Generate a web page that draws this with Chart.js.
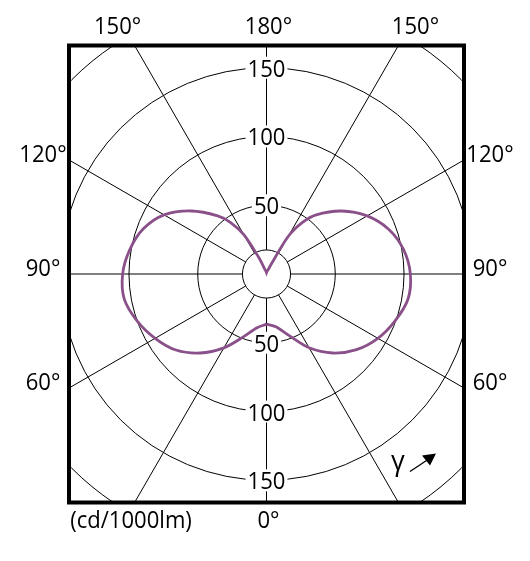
<!DOCTYPE html>
<html><head><meta charset="utf-8">
<style>html,body{margin:0;padding:0;background:#fff;}canvas{display:block;}</style>
<script src="https://cdn.jsdelivr.net/npm/chart.js@4/dist/chart.umd.min.js"></script>
</head><body>
<canvas id="c" width="530" height="561"></canvas>
<script>
// gamma angles (deg, 0 = nadir) and luminous intensity (cd/1000lm)
const angles = [0,10,20,30,40,50,60,70,80,90,100,110,120,130,140,145,150,155,160,170,180];
const leftIntensity  = [36.5,39.7,48.5,62,75,86,93.5,100,105,104.6,101,95.5,86,71.3,55.2,45.9,33,13,4,2,1];
const rightIntensity = [36.5,39,47.5,62,75,85.5,93.5,99.5,104.5,104.6,101.3,94.7,84.5,71.3,56.2,46,31.5,7,3,2,1];
const ringValues = [50,100,150,200];
const ringLabels = [50,100,150];
const hubValue = 17.5;
const spokeAngles = [0,30,60,90,120,150,180,210,240,270,300,330];
const topLabels = ['150°','180°','150°'];
const sideLabels = ['120°','90°','60°'];
const sideAngles = [120,90,60];
const unitLabel = '(cd/1000lm)';
const bottomLabel = '0°';
const gammaLabel = 'γ';

const FONT = '24px "Open Sans", "Noto Sans", sans-serif';
const SX = 0.92;
const rad = d => d*Math.PI/180;

function txt(ctx, t, x, y){
  ctx.save(); ctx.translate(x, y); ctx.scale(SX, 1); ctx.fillText(t, 0, 0); ctx.restore();
}

const pts = [];
angles.forEach((a,i)=>{ const v=leftIntensity[i]; pts.push({x:-v*Math.sin(rad(a)), y:-v*Math.cos(rad(a))}); });
for (let i=angles.length-1;i>=0;i--){ const a=angles[i], v=rightIntensity[i]; pts.push({x:v*Math.sin(rad(a)), y:-v*Math.cos(rad(a))}); }

const polarGrid = {
  id:'polarGrid',
  beforeDatasetsDraw(chart){
    const {ctx, chartArea:ca, scales:{x,y}} = chart;
    const cx=x.getPixelForValue(0), cy=y.getPixelForValue(0), k=x.getPixelForValue(1)-cx;
    ctx.save();
    ctx.beginPath(); ctx.rect(ca.left,ca.top,ca.right-ca.left,ca.bottom-ca.top); ctx.clip();
    ctx.strokeStyle='#000'; ctx.lineWidth=1;
    [hubValue,...ringValues].forEach(v=>{ ctx.beginPath(); ctx.arc(cx,cy,v*k,0,Math.PI*2); ctx.stroke(); });
    spokeAngles.forEach(a=>{
      const s=Math.sin(rad(a)), c=Math.cos(rad(a));
      ctx.beginPath(); ctx.moveTo(cx+hubValue*k*s, cy+hubValue*k*c); ctx.lineTo(cx+400*k*s, cy+400*k*c); ctx.stroke();
    });
    ctx.font=FONT; ctx.textAlign='center'; ctx.textBaseline='alphabetic';
    ringLabels.forEach(v=>{
      [-1,1].forEach(sg=>{
        const yy=cy+sg*v*k, t=String(v), w=ctx.measureText(t).width*SX;
        ctx.fillStyle='#fff'; ctx.fillRect(cx-w/2-2, yy-11, w+4, 22);
        ctx.fillStyle='#000'; txt(ctx, t, cx, yy+9);
      });
    });
    ctx.restore();
  },
  afterDraw(chart){
    const {ctx, chartArea:ca, scales:{x,y}} = chart;
    const cx=x.getPixelForValue(0), cy=y.getPixelForValue(0);
    ctx.save();
    ctx.strokeStyle='#000'; ctx.lineWidth=4;
    ctx.strokeRect(ca.left, ca.top, ca.right-ca.left, ca.bottom-ca.top);
    ctx.fillStyle='#000'; ctx.font=FONT; ctx.textAlign='center'; ctx.textBaseline='alphabetic';
    const off=(cy-ca.top)*Math.tan(rad(30));
    txt(ctx, topLabels[0], cx-off-17, ca.top-12);
    txt(ctx, topLabels[1], cx+2, ca.top-12);
    txt(ctx, topLabels[2], cx+off+17, ca.top-12);
    sideLabels.forEach((t,i)=>{
      const a=sideAngles[i];
      const yy=cy+(cx-ca.left)*Math.cos(rad(a))/Math.sin(rad(a));
      txt(ctx, t, ca.left-26, yy+2);
      txt(ctx, t, ca.right+26, yy+2);
    });
    txt(ctx, unitLabel, ca.left+62, ca.bottom+25);
    txt(ctx, bottomLabel, cx+2, ca.bottom+25);
    // gamma arrow
    ctx.font='27px "Open Sans", "Noto Sans", sans-serif';
    ctx.fillText(gammaLabel, ca.right-66, ca.bottom-33);
    ctx.lineWidth=1.3;
    ctx.beginPath(); ctx.moveTo(ca.right-54, ca.bottom-31); ctx.lineTo(ca.right-36, ca.bottom-43); ctx.stroke();
    ctx.beginPath(); ctx.moveTo(ca.right-28, ca.bottom-49); ctx.lineTo(ca.right-42, ca.bottom-47); ctx.lineTo(ca.right-34, ca.bottom-37); ctx.closePath(); ctx.fill();
    ctx.restore();
  }
};

new Chart(document.getElementById('c'), {
  type:'scatter',
  data:{datasets:[{data:pts, showLine:true, borderColor:'#8a5089', borderWidth:2.8, pointRadius:0, tension:0.3, fill:false}]},
  options:{
    responsive:false, animation:false,
    layout:{padding:{left:69,right:66,top:45.5,bottom:58.5}},
    scales:{
      x:{type:'linear', min:-143.6, max:143.6, display:false},
      y:{type:'linear', min:-166.2, max:166.2, display:false}
    },
    plugins:{legend:{display:false}, tooltip:{enabled:false}}
  },
  plugins:[polarGrid]
});
</script>
</body></html>
